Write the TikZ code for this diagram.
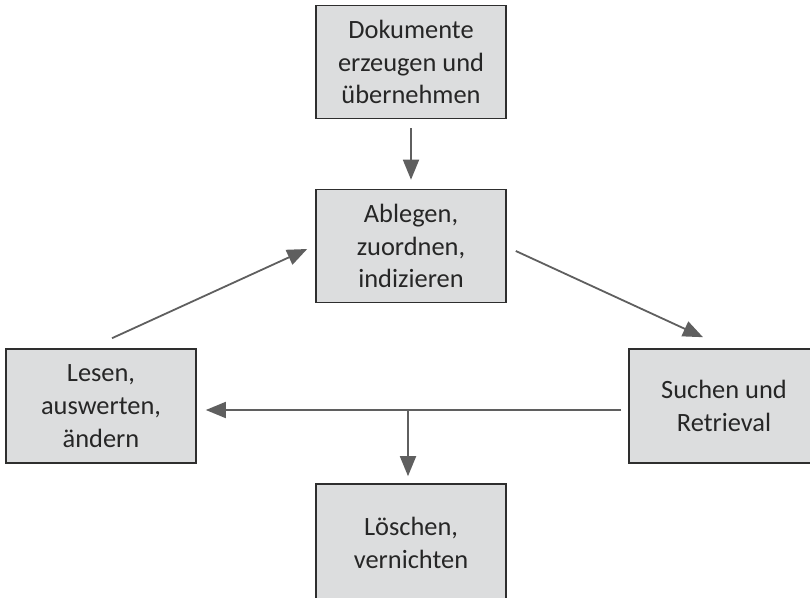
\documentclass[tikz,border=0pt]{standalone}
\usepackage{fontspec}
\newfontfamily\boxfont{Carlito}
\usepackage{tikz}
\usetikzlibrary{arrows.meta}
\usepackage{xcolor}
\definecolor{boxgray}{HTML}{DCDDDE}
\definecolor{boxline}{HTML}{2E2E2E}
\definecolor{arrgray}{HTML}{5F5F5F}
\definecolor{txtgray}{HTML}{262626}
\tikzset{
  proc_box/.style = {rectangle, align=center, inner sep=0pt, text centered,
    draw=boxline, line width=1.6bp, fill=boxgray, text=txtgray,
    minimum width=190bp, minimum height=113bp,
    font=\boxfont\fontsize{26.5}{33}\selectfont},% Prozessschritt
  proc_arr/.style = {draw=arrgray, line width=1.8bp,
    -{Triangle[length=20bp,width=16bp]}}% Pfeil zwischen Schritten
}
\begin{document}
\begin{tikzpicture}[x=1bp,y=-1bp]
\useasboundingbox (0,0) rectangle (810,598);
\node [proc_box] (erzeugen) at (411,62) {Dokumente\\erzeugen und\\übernehmen};
\node [proc_box] (ablegen) at (411,246) {Ablegen,\\zuordnen,\\indizieren};
\node [proc_box, minimum height=114bp] (lesen) at (101,406) {Lesen,\\auswerten,\\ändern};
\node [proc_box, minimum height=114bp] (suchen) at (724,406) {Suchen und\\Retrieval};
\node [proc_box, minimum height=118bp] (loeschen) at (411,543) {Löschen,\\vernichten};
% Kreislauf
\draw [proc_arr, shorten <=9bp, shorten >=9bp] (erzeugen.south) -- (ablegen.north);
\draw [proc_arr] ([xshift=9bp,yshift=-5bp]ablegen.east) -- ([xshift=-21bp,yshift=11bp]suchen.north);
\draw [proc_arr, shorten <=7bp, shorten >=9bp] ([yshift=-4bp]suchen.west) -- ([yshift=-4bp]lesen.east);
\draw [proc_arr] ([xshift=11bp,yshift=10bp]lesen.north) -- ([xshift=-8bp,yshift=-3bp]ablegen.west);
% Abzweig nach unten
\coordinate (abzweig) at ([xshift=-3bp]loeschen.north |- suchen.west);
\draw [proc_arr, shorten >=7bp] ([yshift=-4bp]abzweig) -- ([xshift=-3bp]loeschen.north);
\end{tikzpicture}
\end{document}
